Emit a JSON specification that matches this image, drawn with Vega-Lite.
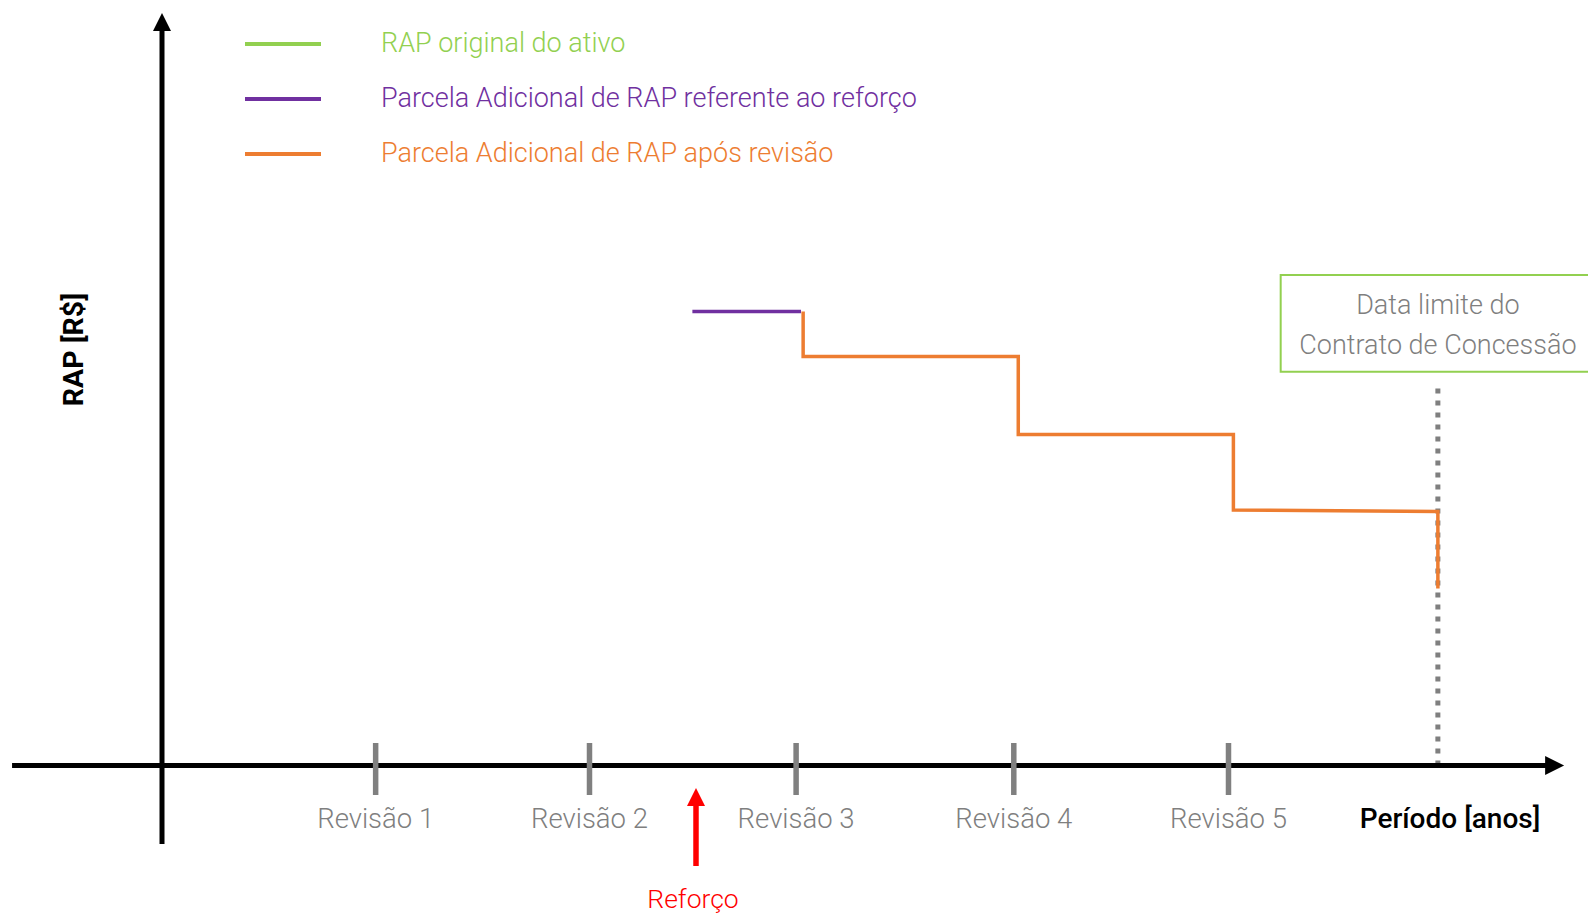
{
 "$schema": "https://vega.github.io/schema/vega-lite/v6.json",
 "width": 1588, "height": 915, "padding": 0,
 "autosize": {"type": "fit", "contains": "padding"},
 "config": {"view": {"stroke": null}, "font": "Roboto"},
 "datasets": {
  "linhas": [
   {"serie": "Parcela Adicional de RAP referente ao reforço", "ordem": 1, "ano": 2.49, "rap": 4.54},
   {"serie": "Parcela Adicional de RAP referente ao reforço", "ordem": 2, "ano": 3.0, "rap": 4.54},
   {"serie": "Parcela Adicional de RAP após revisão", "ordem": 1, "ano": 3.01, "rap": 4.54},
   {"serie": "Parcela Adicional de RAP após revisão", "ordem": 2, "ano": 3.01, "rap": 4.09},
   {"serie": "Parcela Adicional de RAP após revisão", "ordem": 3, "ano": 4.02, "rap": 4.09},
   {"serie": "Parcela Adicional de RAP após revisão", "ordem": 4, "ano": 4.02, "rap": 3.31},
   {"serie": "Parcela Adicional de RAP após revisão", "ordem": 5, "ano": 5.03, "rap": 3.31},
   {"serie": "Parcela Adicional de RAP após revisão", "ordem": 6, "ano": 5.03, "rap": 2.555},
   {"serie": "Parcela Adicional de RAP após revisão", "ordem": 7, "ano": 5.99, "rap": 2.54},
   {"serie": "Parcela Adicional de RAP após revisão", "ordem": 8, "ano": 5.99, "rap": 1.77}
  ],
  "revisoes": [
   {"ano": 1.003, "texto": "Revisão 1"},
   {"ano": 2.007, "texto": "Revisão 2"},
   {"ano": 2.977, "texto": "Revisão 3"},
   {"ano": 3.999, "texto": "Revisão 4"},
   {"ano": 5.007, "texto": "Revisão 5"}
  ],
  "caixa": [
   {"ano": 5.99, "rap": 4.595, "texto": "Data limite do"},
   {"ano": 5.99, "rap": 4.195, "texto": "Contrato de Concessão"}
  ],
  "vazio": [{}]
 },
 "layer": [
  {
   "data": {"name": "vazio"},
   "mark": {"type": "rule", "color": "#7F7F7F", "strokeWidth": 5, "strokeDash": [5, 7]},
   "encoding": {
    "x": {"datum": 5.99, "type": "quantitative", "scale": {"domain": [-0.7606, 6.6948], "nice": false, "zero": false}, "axis": null},
    "y": {"datum": 0, "type": "quantitative", "scale": {"domain": [-1.495, 7.655], "nice": false, "zero": false}, "axis": null},
    "y2": {"datum": 3.775}
   }
  },
  {
   "data": {"name": "vazio"},
   "mark": {"type": "rect", "filled": false, "stroke": "#92D050", "strokeWidth": 2, "clip": true},
   "encoding": {
    "x": {"datum": 5.252, "type": "quantitative", "scale": {"domain": [-0.7606, 6.6948], "nice": false, "zero": false}, "axis": null},
    "x2": {"datum": 6.9},
    "y": {"datum": 4.905, "type": "quantitative", "scale": {"domain": [-1.495, 7.655], "nice": false, "zero": false}, "axis": null},
    "y2": {"datum": 3.938}
   }
  },
  {
   "data": {"name": "caixa"},
   "mark": {"type": "text", "fontSize": 27, "fontWeight": 300, "color": "#7F7F7F", "align": "center", "baseline": "middle"},
   "encoding": {
    "x": {"field": "ano", "type": "quantitative", "scale": {"domain": [-0.7606, 6.6948], "nice": false, "zero": false}, "axis": null},
    "y": {"field": "rap", "type": "quantitative", "scale": {"domain": [-1.495, 7.655], "nice": false, "zero": false}, "axis": null},
    "text": {"field": "texto"}
   }
  },
  {
   "data": {"name": "vazio"},
   "mark": {"type": "rule", "color": "black", "strokeWidth": 5},
   "encoding": {
    "x": {"datum": -0.704, "type": "quantitative", "scale": {"domain": [-0.7606, 6.6948], "nice": false, "zero": false}, "axis": null},
    "x2": {"datum": 6.52},
    "y": {"datum": 0, "type": "quantitative", "scale": {"domain": [-1.495, 7.655], "nice": false, "zero": false}, "axis": null}
   }
  },
  {
   "data": {"name": "vazio"},
   "mark": {"type": "rule", "color": "black", "strokeWidth": 5},
   "encoding": {
    "x": {"datum": 0, "type": "quantitative", "scale": {"domain": [-0.7606, 6.6948], "nice": false, "zero": false}, "axis": null},
    "y": {"datum": -0.785, "type": "quantitative", "scale": {"domain": [-1.495, 7.655], "nice": false, "zero": false}, "axis": null},
    "y2": {"datum": 7.35}
   }
  },
  {
   "data": {"name": "vazio"},
   "mark": {"type": "point", "shape": "M1,0L-1,-1L-1,1Z", "size": 361, "filled": true, "color": "black", "opacity": 1},
   "encoding": {
    "x": {"datum": 6.538, "type": "quantitative", "scale": {"domain": [-0.7606, 6.6948], "nice": false, "zero": false}, "axis": null},
    "y": {"datum": 0, "type": "quantitative", "scale": {"domain": [-1.495, 7.655], "nice": false, "zero": false}, "axis": null}
   }
  },
  {
   "data": {"name": "vazio"},
   "mark": {"type": "point", "shape": "M0,-1L1,1L-1,1Z", "size": 324, "filled": true, "color": "black", "opacity": 1},
   "encoding": {
    "x": {"datum": 0, "type": "quantitative", "scale": {"domain": [-0.7606, 6.6948], "nice": false, "zero": false}, "axis": null},
    "y": {"datum": 7.435, "type": "quantitative", "scale": {"domain": [-1.495, 7.655], "nice": false, "zero": false}, "axis": null}
   }
  },
  {
   "data": {"name": "revisoes"},
   "mark": {"type": "rule", "color": "#808080", "strokeWidth": 5.5},
   "encoding": {
    "x": {"field": "ano", "type": "quantitative", "scale": {"domain": [-0.7606, 6.6948], "nice": false, "zero": false}, "axis": null},
    "y": {"datum": -0.295, "type": "quantitative", "scale": {"domain": [-1.495, 7.655], "nice": false, "zero": false}, "axis": null},
    "y2": {"datum": 0.225}
   }
  },
  {
   "data": {"name": "revisoes"},
   "mark": {"type": "text", "fontSize": 27.5, "fontWeight": 300, "color": "#7F7F7F", "align": "center", "baseline": "middle"},
   "encoding": {
    "x": {"field": "ano", "type": "quantitative", "scale": {"domain": [-0.7606, 6.6948], "nice": false, "zero": false}, "axis": null},
    "y": {"datum": -0.545, "type": "quantitative", "scale": {"domain": [-1.495, 7.655], "nice": false, "zero": false}, "axis": null},
    "text": {"field": "texto"}
   }
  },
  {
   "data": {"name": "linhas"},
   "mark": {"type": "line", "strokeWidth": 3.5, "strokeJoin": "miter"},
   "encoding": {
    "x": {"field": "ano", "type": "quantitative", "scale": {"domain": [-0.7606, 6.6948], "nice": false, "zero": false}, "axis": null},
    "y": {"field": "rap", "type": "quantitative", "scale": {"domain": [-1.495, 7.655], "nice": false, "zero": false}, "axis": null},
    "order": {"field": "ordem"},
    "color": {
     "field": "serie", "type": "nominal",
     "scale": {
      "domain": ["RAP original do ativo", "Parcela Adicional de RAP referente ao reforço", "Parcela Adicional de RAP após revisão"],
      "range": ["#92D050", "#7030A0", "#ED7D31"]
     },
     "legend": {
      "orient": "none", "legendX": 243, "legendY": 4, "title": null,
      "symbolType": "stroke", "symbolSize": 5776, "symbolStrokeWidth": 4,
      "labelFontSize": 27, "labelFont": "Roboto", "labelFontWeight": 300, "labelOffset": 58,
      "rowPadding": 2, "labelLimit": 1000, "padding": 0,
      "encode": {"labels": {"update": {"fill": {"scale": "color", "field": "value"}}}}
     }
    }
   }
  },
  {
   "data": {"name": "vazio"},
   "mark": {"type": "rule", "color": "#FF0000", "strokeWidth": 5.5},
   "encoding": {
    "x": {"datum": 2.507, "type": "quantitative", "scale": {"domain": [-0.7606, 6.6948], "nice": false, "zero": false}, "axis": null},
    "y": {"datum": -1.005, "type": "quantitative", "scale": {"domain": [-1.495, 7.655], "nice": false, "zero": false}, "axis": null},
    "y2": {"datum": -0.35}
   }
  },
  {
   "data": {"name": "vazio"},
   "mark": {"type": "point", "shape": "M0,-1L1,1L-1,1Z", "size": 324, "filled": true, "color": "#FF0000", "opacity": 1},
   "encoding": {
    "x": {"datum": 2.507, "type": "quantitative", "scale": {"domain": [-0.7606, 6.6948], "nice": false, "zero": false}, "axis": null},
    "y": {"datum": -0.315, "type": "quantitative", "scale": {"domain": [-1.495, 7.655], "nice": false, "zero": false}, "axis": null}
   }
  },
  {
   "data": {"name": "vazio"},
   "mark": {"type": "text", "text": "Reforço", "fontSize": 26.5, "fontWeight": 300, "color": "#FF0000", "align": "center", "baseline": "middle"},
   "encoding": {
    "x": {"datum": 2.493, "type": "quantitative", "scale": {"domain": [-0.7606, 6.6948], "nice": false, "zero": false}, "axis": null},
    "y": {"datum": -1.345, "type": "quantitative", "scale": {"domain": [-1.495, 7.655], "nice": false, "zero": false}, "axis": null}
   }
  },
  {
   "data": {"name": "vazio"},
   "mark": {"type": "text", "text": "Período [anos]", "fontSize": 28, "fontWeight": 500, "color": "black", "align": "center", "baseline": "middle"},
   "encoding": {
    "x": {"datum": 6.047, "type": "quantitative", "scale": {"domain": [-0.7606, 6.6948], "nice": false, "zero": false}, "axis": null},
    "y": {"datum": -0.545, "type": "quantitative", "scale": {"domain": [-1.495, 7.655], "nice": false, "zero": false}, "axis": null}
   }
  },
  {
   "data": {"name": "vazio"},
   "mark": {"type": "text", "text": "RAP [R$]", "fontSize": 28.5, "fontWeight": "bold", "color": "black", "align": "center", "baseline": "middle", "angle": 270},
   "encoding": {
    "x": {"datum": -0.413, "type": "quantitative", "scale": {"domain": [-0.7606, 6.6948], "nice": false, "zero": false}, "axis": null},
    "y": {"datum": 4.159, "type": "quantitative", "scale": {"domain": [-1.495, 7.655], "nice": false, "zero": false}, "axis": null}
   }
  }
 ]
}
